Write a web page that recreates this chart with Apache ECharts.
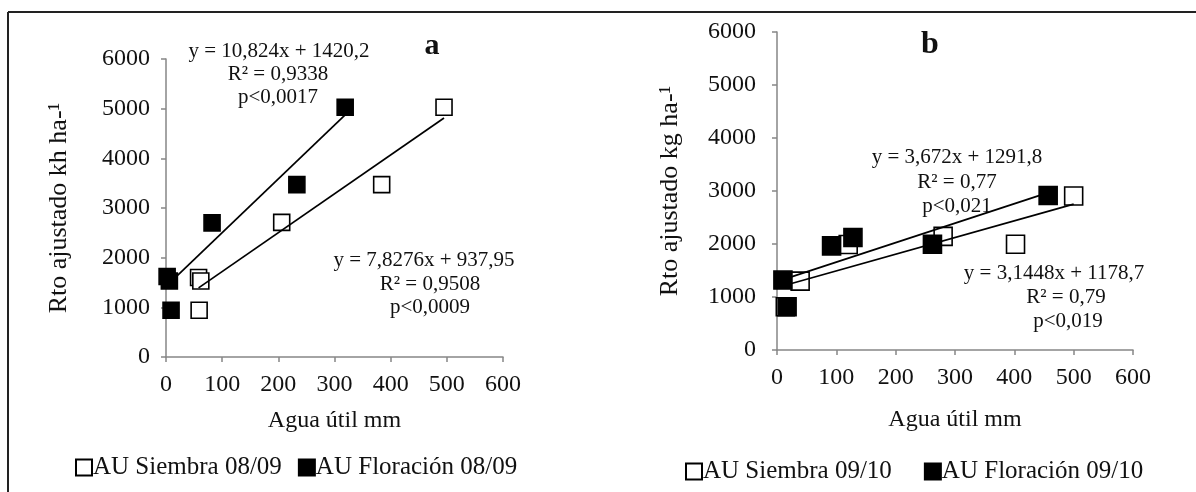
<!DOCTYPE html>
<html>
<head>
<meta charset="utf-8">
<script src="https://cdn.jsdelivr.net/npm/echarts@6/dist/echarts.min.js"></script>
<style>
  html, body { margin: 0; padding: 0; background: #fff; }
  #chart { width: 1196px; height: 492px; }
</style>
</head>
<body>
<div id="chart"></div>
<script>
// Panel a: 2008/09 season
const siembra0809X = [58, 62, 59, 206, 384, 495];
const siembra0809Y = [1600, 1530, 940, 2710, 3470, 5030];
const floracion0809X = [2, 6, 9, 82, 233, 319];
const floracion0809Y = [1620, 1530, 940, 2700, 3470, 5030];

// Panel b: 2009/10 season
const siembra0910X = [14, 39, 120, 280, 402, 500];
const siembra0910Y = [815, 1300, 1990, 2143, 1996, 2906];
const floracion0910X = [10, 17, 92, 128, 262, 457];
const floracion0910Y = [1320, 815, 1964, 2123, 1996, 2914];

// Fitted linear trends (slope, intercept)
const trendSiembra0809 = [7.8276, 937.95];
const trendFloracion0809 = [10.824, 1420.2];
const trendSiembra0910 = [3.1448, 1178.7];
const trendFloracion0910 = [3.672, 1291.8];

const seriesNames = ['AU Siembra 08/09', 'AU Floración 08/09', 'AU Siembra 09/10', 'AU Floración 09/10'];
const xTicks = [0, 100, 200, 300, 400, 500, 600];
const yTicks = [0, 1000, 2000, 3000, 4000, 5000, 6000];

const FONT = '"Liberation Serif", "DejaVu Serif", serif';
const AXIS_GREY = '#868686';

const pairs = (xs, ys) => xs.map((x, i) => [x, ys[i]]);
const trendPoints = (xs, coef) => {
  const lo = Math.min(...xs), hi = Math.max(...xs);
  return [[lo, coef[0] * lo + coef[1]], [hi, coef[0] * hi + coef[1]]];
};
const plain = v => String(v);

function xAxisFor(gridIndex, gap) {
  return {
    gridIndex, type: 'value',
    min: xTicks[0], max: xTicks[xTicks.length - 1], interval: 100,
    name: 'Agua útil mm', nameLocation: 'middle', nameGap: gap,
    nameTextStyle: { fontFamily: FONT, fontSize: 24, color: '#111' },
    axisLine: { lineStyle: { color: AXIS_GREY, width: 1.5 } },
    axisTick: { show: true, length: 5, lineStyle: { color: AXIS_GREY, width: 1.5 } },
    axisLabel: { fontFamily: FONT, fontSize: 24, color: '#111', margin: 16, formatter: plain },
    splitLine: { show: false }
  };
}
function yAxisFor(gridIndex, name, labelMargin) {
  return {
    gridIndex, type: 'value',
    min: yTicks[0], max: yTicks[yTicks.length - 1], interval: 1000,
    name, nameLocation: 'middle', nameGap: 94, nameRotate: 90,
    nameTextStyle: { fontFamily: FONT, fontSize: 26, color: '#111' },
    axisLine: { show: true, lineStyle: { color: AXIS_GREY, width: 1.5 } },
    axisTick: { show: true, length: 5, lineStyle: { color: AXIS_GREY, width: 1.5 } },
    axisLabel: { fontFamily: FONT, fontSize: 24, color: '#111', margin: labelMargin, formatter: plain },
    splitLine: { show: false }
  };
}
function scatter(name, idx, data, filled, size) {
  return {
    name, type: 'scatter', xAxisIndex: idx, yAxisIndex: idx,
    data, symbol: 'rect', symbolSize: size, z: 2,
    itemStyle: { color: filled ? '#000' : '#fff', borderColor: '#000', borderWidth: 1.6, opacity: 1 },
    emphasis: { disabled: true }
  };
}
function trend(idx, data) {
  return {
    type: 'line', xAxisIndex: idx, yAxisIndex: idx, data,
    symbol: 'none', z: 3, silent: true,
    lineStyle: { color: '#000', width: 1.7 }
  };
}
function txt(x, y, text, size, bold) {
  return {
    type: 'text', x, y, z: 10,
    style: {
      text, fill: '#111', font: (bold ? 'bold ' : '') + size + 'px ' + FONT,
      textAlign: 'center', textVerticalAlign: 'middle'
    }
  };
}

const legendBase = {
  icon: 'rect', itemWidth: 16, itemHeight: 16,
  textStyle: { fontFamily: FONT, fontSize: 25, color: '#111', padding: [0, 0, 0, -4] }
};

const chart = echarts.init(document.getElementById('chart'));
chart.setOption({
  animation: false,
  backgroundColor: '#fff',
  grid: [
    { left: 166, top: 59, width: 337, height: 298 },
    { left: 777, top: 32, width: 356, height: 318 }
  ],
  xAxis: [xAxisFor(0, 52), xAxisFor(1, 58)],
  yAxis: [yAxisFor(0, 'Rto ajustado kh ha-¹', 16), yAxisFor(1, 'Rto ajustado kg ha-¹', 21)],
  legend: [
    Object.assign({}, legendBase, { data: [seriesNames[0], seriesNames[1]], left: 70, top: 450, itemGap: 16 }),
    Object.assign({}, legendBase, { data: [seriesNames[2], seriesNames[3]], left: 680, top: 454, itemGap: 32 })
  ],
  series: [
    scatter(seriesNames[0], 0, pairs(siembra0809X, siembra0809Y), false, 16),
    scatter(seriesNames[1], 0, pairs(floracion0809X, floracion0809Y), true, 16),
    trend(0, trendPoints(siembra0809X, trendSiembra0809)),
    trend(0, trendPoints(floracion0809X, trendFloracion0809)),
    scatter(seriesNames[2], 1, pairs(siembra0910X, siembra0910Y), false, 18),
    scatter(seriesNames[3], 1, pairs(floracion0910X, floracion0910Y), true, 18),
    trend(1, trendPoints(siembra0910X, trendSiembra0910)),
    trend(1, trendPoints(floracion0910X, trendFloracion0910))
  ],
  graphic: [
    // frame lines
    { type: 'line', shape: { x1: 8, y1: 12, x2: 1196, y2: 12 }, style: { stroke: '#222', lineWidth: 2 } },
    { type: 'line', shape: { x1: 8, y1: 12, x2: 8, y2: 492 }, style: { stroke: '#222', lineWidth: 2 } },
    // panel letters
    txt(432, 46, 'a', 30, true),
    txt(930, 45, 'b', 32, true),
    // panel a equations
    txt(279, 51, 'y = 10,824x + 1420,2', 21),
    txt(278, 74, 'R² = 0,9338', 21),
    txt(278, 97, 'p<0,0017', 21),
    txt(424, 260, 'y = 7,8276x + 937,95', 21),
    txt(430, 284, 'R² = 0,9508', 21),
    txt(430, 307, 'p<0,0009', 21),
    // panel b equations
    txt(957, 157, 'y = 3,672x + 1291,8', 21),
    txt(957, 182, 'R² = 0,77', 21),
    txt(957, 206, 'p<0,021', 21),
    txt(1054, 273, 'y = 3,1448x + 1178,7', 21),
    txt(1066, 297, 'R² = 0,79', 21),
    txt(1068, 321, 'p<0,019', 21)
  ]
});
</script>
</body>
</html>
